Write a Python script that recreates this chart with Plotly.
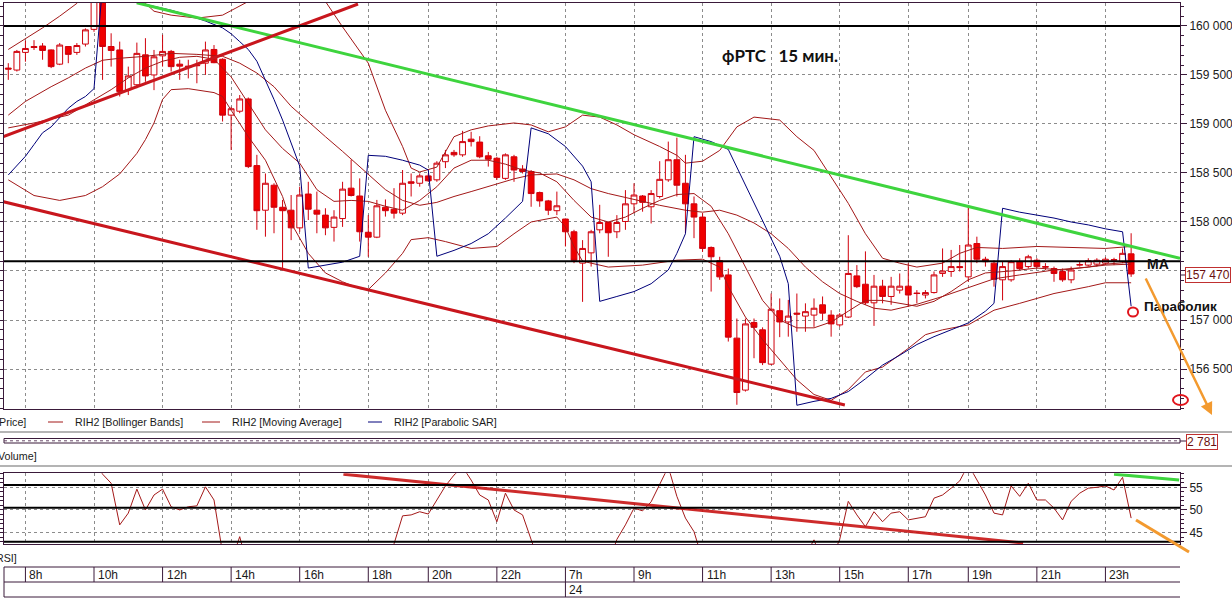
import plotly.graph_objects as go

W, H = 1232, 598
def px(x): return x / W
def py(y): return 1 - y / H

# ---------------- data ----------------
tick_bars = [2, 10, 18, 26, 34, 42, 49, 57, 65, 73, 81, 89, 97, 105, 112, 120, 128]
tick_labels = ["8h", "10h", "12h", "14h", "16h", "18h", "20h", "22h", "7h", "9h",
               "11h", "13h", "15h", "17h", "19h", "21h", "23h"]
date_bar, date_label = 65, "24"

opens = [159570,159550,159730,159790,159795,159755,159610,159790,159730,159815,
         159965,160300,159790,159755,159350,159400,159705,159500,159695,159740,
         159610,159590,159600,159620,159760,159660,159090,159130,159255,158575,
         158120,158375,158150,158120,157940,158285,158120,158070,157945,158035,
         158345,158265,157895,157845,158150,158130,158090,158410,158395,158470,
         158430,158615,158710,158685,158845,158815,158675,158650,158445,158665,
         158540,158515,158300,158215,158115,158030,157900,157580,157685,157920,
         157995,157900,158005,158185,158265,158155,158260,158430,158635,158395,
         158185,158050,157740,157605,157460,156815,156285,156975,156900,156550,
         157095,156980,157070,157040,157050,157155,157050,156950,157030,157450,
         157365,157175,157345,157240,157305,157345,157275,157255,157280,157475,
         157495,157545,157440,157780,157620,157580,157410,157410,157595,157545,
         157610,157545,157525,157495,157410,157560,157560,157570,157580,157610,
         157595,157675]
highs = [159620,159755,159850,159855,159825,159760,159825,159795,159825,159975,
         160400,160420,159925,159840,159585,159830,159875,159755,159910,159755,
         159655,159655,159655,159840,159805,159670,159175,159295,159270,158685,
         158495,158395,158225,158275,158360,158410,158310,158140,158120,158410,
         158635,158445,158070,158225,158230,158345,158530,158495,158495,158495,
         158620,158735,158735,158930,158920,158875,158715,158665,158700,158685,
         158580,158530,158310,158225,158310,158035,157920,157815,157920,158175,
         158005,158070,158325,158395,158275,158325,158620,158820,158860,158685,
         158260,158090,157750,157645,157525,157015,157015,157015,156925,157270,
         157220,157205,157270,157170,157220,157240,157100,157070,157865,157560,
         157700,157460,157410,157440,157475,157580,157305,157305,157495,157730,
         157715,157765,158170,157850,157645,157610,157595,157610,157630,157665,
         157630,157580,157545,157525,157545,157595,157630,157630,157640,157635,
         157730,157885]
lows = [159450,159535,159635,159755,159655,159570,159600,159620,159705,159790,
        159940,159450,159585,159280,159295,159365,159430,159345,159585,159535,
        159450,159465,159415,159500,159620,159025,158735,159110,158550,157920,
        157850,157885,157510,157815,157900,158020,157885,157865,157800,157950,
        158260,157800,157645,157835,158055,158035,158070,158260,158360,158410,
        158410,158550,158665,158665,158770,158650,158565,158430,158430,158410,
        158495,158155,158155,158070,158070,157750,157580,157185,157545,157885,
        157645,157835,157920,158090,158105,157985,158240,158410,158260,157885,
        157835,157695,157290,157410,156780,156135,156270,156610,156540,156540,
        156825,156830,156880,156880,156930,157000,156830,156930,157020,157325,
        157155,156940,157170,157155,157270,157135,157170,157220,157270,157440,
        157440,157495,157390,157580,157545,157340,157200,157390,157510,157525,
        157525,157510,157390,157390,157375,157545,157545,157545,157560,157560,
        157580,157440]
closes = [159560,159740,159770,159780,159750,159585,159805,159710,159800,159960,
          160330,159790,159750,159330,159490,159720,159490,159685,159740,159585,
          159590,159580,159595,159755,159625,159090,159155,159255,158565,158115,
          158395,158150,158115,157940,158275,158130,158080,157940,158050,158335,
          158270,157900,157845,158165,158115,158090,158395,158395,158470,158420,
          158600,158685,158685,158820,158820,158665,158640,158455,158685,158530,
          158515,158290,158215,158120,158165,157900,157610,157730,157900,157995,
          157890,157995,158185,158275,158200,158290,158435,158635,158375,158185,
          158050,157730,157645,157440,156825,156260,156960,156925,156565,157110,
          156980,157040,157060,157085,157120,157070,156960,157050,157475,157340,
          157175,157345,157240,157345,157345,157255,157270,157280,157460,157500,
          157545,157535,157765,157620,157595,157415,157545,157595,157525,157645,
          157545,157540,157475,157410,157510,157565,157605,157610,157620,157615,
          157680,157470]
bars = list(range(len(opens)))

# Bollinger bands (upper / middle / lower), moving average, parabolic SAR
ub_x = [0,2,4,6,8,10,13,15,16,17,19,22,25,28,31,34,37,39,42,44,46,47,48,50,52,54,56,59,61,63,
        65,67,69,71,73,76,78,79,81,83,85,87,90,92,94,96,98,100,102,104,106,109,111,113,116,120,124,128,131]
ub_y = [159760,159870,159980,160100,160230,160440,160640,160400,160230,160150,160110,160080,160110,160250,160470,
        160440,160250,159990,159620,159140,158770,158550,158510,158560,158870,158940,158980,159010,158990,158920,
        158970,159090,159070,158990,158890,158770,158680,158600,158620,158730,158970,159070,159040,158870,158730,
        158460,158190,157880,157630,157580,157540,157580,157680,157740,157730,157750,157740,157730,157750]
mb_x = [0,2,5,7,9,11,13,16,19,22,25,27,29,31,33,35,37,39,42,44,46,48,50,52,54,56,59,61,64,66,
        68,70,73,76,79,81,83,85,87,89,91,93,95,97,99,101,103,106,109,112,115,118,122,126,128,131]
mb_y = [159090,159230,159380,159470,159570,159650,159670,159690,159720,159710,159690,159620,159520,159380,159180,
        159020,158870,158720,158480,158330,158220,158170,158200,158260,158310,158360,158440,158480,158490,158430,
        158340,158290,158230,158170,158120,158100,158120,158070,157990,157880,157730,157540,157390,157270,157190,
        157120,157100,157160,157240,157330,157420,157460,157510,157540,157560,157570]
lb_x = [0,3,6,9,11,13,15,16,17,18,19,21,24,25,26,28,30,32,33,35,37,39,41,42,44,46,47,49,51,54,
        57,59,61,64,65,66,67,70,74,78,81,83,84,86,88,90,92,94,96,98,100,102,105,107,109,112,115,118,122,126,128,131]
lb_y = [158430,158270,158220,158270,158360,158490,158700,158840,159010,159250,159350,159360,159320,159280,159140,
        158870,158630,158260,157990,157680,157480,157390,157320,157310,157480,157680,157820,157840,157800,157730,
        157750,157880,158000,158050,157950,157750,157600,157540,157560,157610,157620,157540,157340,157030,156800,
        156590,156390,156240,156180,156290,156470,156520,156710,156850,156900,156950,157100,157170,157270,157340,
        157380,157380]
ma_x = [0,3,7,10,12,14,16,18,20,22,24,26,28,30,32,34,36,38,40,42,44,46,48,50,52,54,56,58,60,62,
        64,66,68,70,72,74,76,78,80,82,84,86,88,90,92,94,96,98,100,102,104,106,108,110,112,114,117,120,123,126,128,131]
ma_y = [158960,159010,159090,159250,159350,159470,159570,159640,159680,159690,159660,159480,159210,158940,158750,
        158600,158330,158210,158220,158210,158160,158120,158220,158360,158550,158630,158630,158590,158530,158500,
        158410,158220,158050,158000,158050,158140,158220,158280,158290,158160,157880,157540,157200,157000,156920,
        156920,156980,157090,157200,157200,157170,157140,157190,157290,157410,157480,157500,157530,157510,157540,
        157570,157590]
sar_x = [0,1,2,3,4,5,6,7,8,9,10,11,12,13,14,15,17,19,21,23,25,26,27,28,29,30,31,32,33,34,35,37,39,41,42,
         44,46,48,49,50,52,54,56,58,60,61,63,65,67,68,69,71,73,75,77,78,79,80,82,84,86,88,90,91,92,94,96,98,
         100,102,104,106,108,110,112,114,115,116,118,120,122,124,126,128,130,131]
sar_y = [158480,158570,158670,158790,158910,158970,159060,159160,159230,159280,159360,160420,160380,160330,160280,
         160240,160200,160160,160110,160050,159980,159920,159840,159760,159640,159450,159250,159040,158800,158570,
         157530,157560,157590,157650,158680,158670,158630,158580,158530,157650,157710,157780,157880,158040,158210,
         158960,158900,158770,158570,158410,157190,157240,157290,157370,157510,157680,157880,158870,158820,158740,
         158380,158020,157650,157370,156130,156170,156200,156270,156400,156540,156640,156750,156830,156900,156970,
         157090,157170,158140,158100,158070,158040,158000,157970,157930,157900,157140]

rsi_x = [0,2,4,6,8,10,11,12,13,14,15,16,17,18,19,20,21,22,23,24,25,26,27,28,30,33,36,39,42,
         44,45,46,47,48,49,50,51,52,53,54,55,56,57,58,59,60,61,62,64,66,68,70,
         71,72,73,74,75,76,77,78,79,80,81,83,85,88,91,93] + list(range(94, 132))
rsi_y = [63,65,64,66,64,61,57.9,55.9,46.7,49.3,54.6,50.0,53.3,54.6,50.7,50.0,50.7,50.9,55.1,52.2,40.5,38.5,44.1,37,
         33,31,33,35,34,38,42.5,48.7,48.9,49.6,49.1,52.2,55.3,57.7,59.5,56.6,53.3,52.2,47.4,53.7,50.0,48.9,43.0,38,
         36,30,32,38,43.5,46.7,50.4,49.8,51.8,55.5,59.5,53,48.2,45.2,39,33,25,32,38,40,
         43.4,38.5,39,43.5,51.9,48.9,46.3,49.6,47.4,49.3,49.6,47.8,48.2,48.5,52.6,53.3,54.8,56.4,60,56.6,
         53.3,49.3,48.9,55.3,53.0,55.9,52.2,52.2,50.4,47.8,51.9,53.7,54.8,55.0,55.3,54.4,57.2,48.2]

# hand-drawn trend lines (bar, price) / (bar, rsi)
green_tl = ([14.98, 136.7], [160237, 157629])
red_up_tl = ([-0.58, 40.8], [158870, 160224])
red_dn_tl = ([-0.58, 97.6], [158207, 156133])
rsi_red_tl = ([39.1, 118.4], [57.9, 42.7])
rsi_green_tl = ([129.0, 136.6], [57.9, 56.6])
price_levels = [160000, 157600]
rsi_levels = [55.5, 50.5, 43.0]
last_price_text = "157 470"
volume_text = "2 781"

main_ticks = [156500, 157000, 157500, 158000, 158500, 159000, 159500, 160000]
main_tick_text = ["156 500", "157 000", "", "158 000", "158 500", "159 000", "159 500", "160 000"]
rsi_ticks = [45, 50, 55]

# ---------------- styling ----------------
BORDER = '#3a1a3a'
GRID = '#8c8c8c'
IND = '#a31818'
CANDLE = '#d0000c'
FONT = 'Liberation Sans'

fig = go.Figure()
fig.add_trace(go.Candlestick(
    x=bars, open=opens, high=highs, low=lows, close=closes,
    increasing=dict(line=dict(color=CANDLE, width=1), fillcolor='white'),
    decreasing=dict(line=dict(color=CANDLE, width=1), fillcolor='#f00000'),
    whiskerwidth=0, xaxis='x', yaxis='y', hoverinfo='skip'))
for xs, ys in [(ub_x, ub_y), (mb_x, mb_y), (lb_x, lb_y), (ma_x, ma_y)]:
    fig.add_trace(go.Scatter(x=xs, y=ys, mode='lines', line=dict(color=IND, width=1),
                             xaxis='x', yaxis='y', hoverinfo='skip'))
fig.add_trace(go.Scatter(x=sar_x, y=sar_y, mode='lines', line=dict(color='#00007a', width=1),
                         xaxis='x', yaxis='y', hoverinfo='skip'))
for (xs, ys), col in [(green_tl, '#3ed43e'), (red_up_tl, '#c8161d'), (red_dn_tl, '#c8161d')]:
    fig.add_trace(go.Scatter(x=xs, y=ys, mode='lines', line=dict(color=col, width=3),
                             xaxis='x', yaxis='y', hoverinfo='skip'))
# RSI panel
fig.add_trace(go.Scatter(x=rsi_x, y=rsi_y, mode='lines', line=dict(color=IND, width=1),
                         xaxis='x2', yaxis='y2', hoverinfo='skip'))
fig.add_trace(go.Scatter(x=rsi_red_tl[0], y=rsi_red_tl[1], mode='lines',
                         line=dict(color='rgba(200,20,20,0.9)', width=3), xaxis='x2', yaxis='y2'))
fig.add_trace(go.Scatter(x=rsi_green_tl[0], y=rsi_green_tl[1], mode='lines',
                         line=dict(color='#3ed43e', width=3), xaxis='x2', yaxis='y2'))

xcommon = dict(range=[-0.5, 136.7], domain=[px(4), px(1180)], tickvals=tick_bars,
               showticklabels=False, ticks='', showgrid=True, gridcolor=GRID, griddash='3px,3px',
               gridwidth=1, zeroline=False, showline=True, linecolor=BORDER, linewidth=1, mirror=True,
               fixedrange=True)
ycommon = dict(side='right', ticks='outside', ticklen=6, tickcolor=BORDER,
               tickfont=dict(family=FONT, size=12, color='#202020'), showgrid=True, gridcolor=GRID,
               griddash='3px,3px', showline=True, linecolor=BORDER, linewidth=1, mirror='allticks',
               zeroline=False, fixedrange=True)

fig.update_layout(
    width=W, height=H, margin=dict(l=0, r=0, t=0, b=0, autoexpand=False),
    paper_bgcolor='white', plot_bgcolor='white', showlegend=False,
    boxgap=0.25, boxgroupgap=0.1,
    xaxis=dict(**xcommon, anchor='y', rangeslider=dict(visible=False)),
    xaxis2=dict(**xcommon, anchor='y2', matches='x'),
    yaxis=dict(**ycommon, anchor='x', domain=[py(409), py(3)], range=[156092, 160234],
               tickvals=main_ticks, ticktext=main_tick_text,
               minor=dict(tick0=156000, dtick=100, ticks='outside', ticklen=3, tickcolor=BORDER, showgrid=False)),
    yaxis2=dict(**ycommon, anchor='x2', domain=[py(544), py(473.3)], range=[42.48, 58.09],
                tickvals=rsi_ticks, ticktext=[str(t) for t in rsi_ticks],
                minor=dict(tick0=40, dtick=1, ticks='outside', ticklen=3, tickcolor=BORDER, showgrid=False)),
)

shapes = []
annotations = []
def hline_paper(x0, x1, y, color, width=1, dash=None):
    shapes.append(dict(type='line', xref='paper', yref='paper', x0=px(x0), x1=px(x1), y0=py(y), y1=py(y),
                       line=dict(color=color, width=width, dash=dash)))
def text(x, y, s, size=11, bold=False, anchor='left', family=FONT, color='#1a1a1a'):
    annotations.append(dict(xref='paper', yref='paper', x=px(x), y=py(y), text=('<b>%s</b>' % s) if bold else s,
                            showarrow=False, xanchor=anchor, yanchor='middle',
                            font=dict(family=family, size=size, color=color)))

# level lines
for lv in price_levels:
    shapes.append(dict(type='line', xref='x domain', yref='y', x0=0, x1=1, y0=lv, y1=lv,
                       line=dict(color='black', width=2)))
for lv in rsi_levels:
    shapes.append(dict(type='line', xref='x2 domain', yref='y2', x0=0, x1=1, y0=lv, y1=lv,
                       line=dict(color='black', width=2)))

# legend row
text(-3, 422, "Price]", size=10.7)
for x0, x1, c, label, lx in [(48, 63, IND, "RIH2 [Bollinger Bands]", 73),
                             (202, 220, IND, "RIH2 [Moving Average]", 230),
                             (368, 382, '#00007a', "RIH2 [Parabolic SAR]", 392)]:
    hline_paper(x0, x1, 422, c, 1)
    text(lx, 422, label, size=10.7)
hline_paper(0, 1232, 432, '#b4b4b4', 2)
# volume panel (collapsed)
shapes.append(dict(type='rect', xref='paper', yref='paper', x0=px(4), x1=px(1180), y0=py(443), y1=py(438.5),
                   line=dict(color=BORDER, width=1)))
hline_paper(4, 1180, 440.8, '#6a4a6a', 1, '3px,3px')
hline_paper(1180, 1187, 441, BORDER, 1)
annotations.append(dict(xref='paper', yref='paper', x=px(1202), y=py(441.5), text=volume_text, showarrow=False,
                        xanchor='center', yanchor='middle',
                        font=dict(family=FONT, size=12, color='#6a1010'), bordercolor='#c03030', borderwidth=1,
                        borderpad=0, bgcolor='white'))
text(-4, 456, "Volume]", size=10.7)
hline_paper(0, 1232, 466, '#b4b4b4', 2)
text(-6, 558, "RSI]", size=10.7)

# last price box
hline_paper(1180, 1187, 275, BORDER, 1)
annotations.append(dict(xref='paper', yref='paper', x=px(1207.5), y=py(275), text=last_price_text, showarrow=False,
                        xanchor='center', yanchor='middle',
                        font=dict(family=FONT, size=12, color='#6a1010'), bordercolor='#c03030', borderwidth=1,
                        borderpad=0, bgcolor='white'))

# time axis rows
for yy in [567, 582, 597]:
    hline_paper(4, 1180, yy, BORDER, 1)
shapes.append(dict(type='line', xref='paper', yref='paper', x0=px(4), x1=px(4), y0=py(567), y1=py(597),
                   line=dict(color=BORDER, width=1)))
for b, lab in zip(tick_bars, tick_labels):
    y_end = 597 if b == date_bar else 582
    shapes.append(dict(type='line', xref='x', yref='paper', x0=b, x1=b, y0=py(567), y1=py(y_end),
                       line=dict(color=BORDER, width=1)))
    annotations.append(dict(xref='x', yref='paper', x=b, y=py(574.5), text=lab, showarrow=False,
                            xanchor='left', yanchor='middle', xshift=2,
                            font=dict(family=FONT, size=12, color='#1a1a1a')))
annotations.append(dict(xref='x', yref='paper', x=date_bar, y=py(589.5), text=date_label, showarrow=False,
                        xanchor='left', yanchor='middle', xshift=2, font=dict(family=FONT, size=12, color='#1a1a1a')))

# hand annotations
text(780, 56, "фРТС\u00a0\u00a0 15 мин.", size=17, bold=True, anchor='center', family='Lato', color='#111')
text(1145, 264, "MA", size=14, bold=True, color='#111')
text(1142, 306, "Параболик", size=13.5, bold=True, color='#111')
shapes.append(dict(type='circle', xref='paper', yref='paper', x0=px(1128), x1=px(1138), y0=py(316.5), y1=py(307.5),
                   line=dict(color='#e0141c', width=2)))
shapes.append(dict(type='circle', xref='paper', yref='paper', x0=px(1173), x1=px(1188), y0=py(405), y1=py(395),
                   line=dict(color='#e0141c', width=2)))
annotations.append(dict(xref='paper', yref='paper', x=px(1212), y=py(415), ax=-67, ay=-138, text='',
                        showarrow=True, arrowhead=2, arrowsize=1, arrowwidth=2.5, arrowcolor='#f39a2f'))
shapes.append(dict(type='line', xref='paper', yref='paper', x0=px(1136), x1=px(1189), y0=py(520), y1=py(552),
                   line=dict(color='#f39a2f', width=3)))

fig.update_layout(shapes=shapes, annotations=annotations)
fig.write_html("out.html", config={'displayModeBar': False},
               post_script="document.body.style.margin='0px';document.body.style.padding='0px';"
                           "document.body.style.overflow='hidden';")
